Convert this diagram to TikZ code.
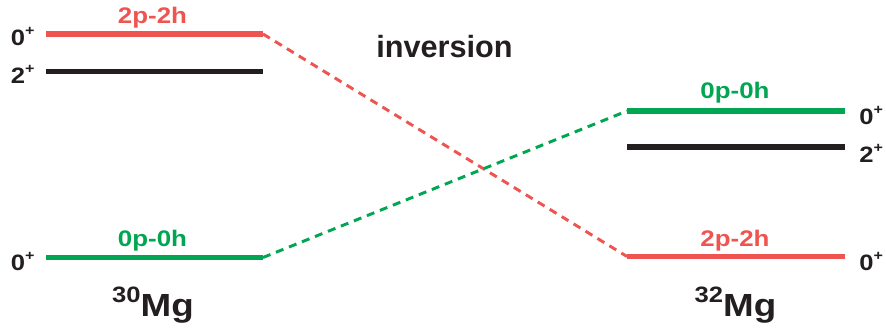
\documentclass[tikz,border=0pt]{standalone}
\usepackage{fontspec}
\setmainfont{Liberation Sans}
\newfontfamily\widesf{Liberation Sans}[FakeStretch=1.15]
\definecolor{pnred}{RGB}{238,84,80}
\definecolor{pngreen}{RGB}{0,166,81}
\definecolor{pnblack}{RGB}{35,31,32}
\newcommand\posparity{\raisebox{7.5pt}{\fontsize{10.5}{10}\selectfont +}}
\newcommand\massno[1]{\raisebox{10.5pt}{\fontsize{16.7}{17}\selectfont #1}}
\begin{document}
\begin{tikzpicture}[x=0.75pt,y=-0.75pt,
  level/.style={line width=3.8pt},
  mixing/.style={line width=2.2pt,dash pattern=on 6pt off 4.5pt},
  conf/.style={anchor=base,inner sep=0pt,font=\widesf\bfseries\fontsize{16.9}{17}\selectfont},
  spin/.style={anchor=base west,inner sep=0pt,text=pnblack,font=\widesf\bfseries\fontsize{16.7}{17}\selectfont},
  nucl/.style={anchor=base,inner sep=0pt,text=pnblack,font=\widesf\bfseries\fontsize{24}{24}\selectfont}]
\useasboundingbox (0,0) rectangle (886,329);
\draw[level,pnred] (46,34) -- (263,34) coordinate (a0);
\draw[level,pnblack] (46,71.5) -- (263,71.5);
\draw[level,pngreen] (46,257.5) -- (263,257.5) coordinate (a1);
\draw[level,pngreen] (627,111) coordinate (b1) -- (845,111);
\draw[level,pnblack] (627,147) -- (845,147);
\draw[level,pnred] (627,256.5) coordinate (b0) -- (845,256.5);
\draw[mixing,pnred] (a0) -- (b0);
\draw[mixing,pngreen] (a1) -- (b1);
\foreach \x/\y/\j [count=\i] in {10.5/45.5/0,10.5/83/2,10.5/270/0,859/124/0,859/162/2,859/270/0}
  \node[spin] (jp\i) at (\x,\y) {\j\posparity};
\node[conf,text=pnred] (ltop) at (152.5,23.5) {2p-2h};
\node[conf,text=pngreen] (lbot) at (152.5,246.5) {0p-0h};
\node[conf,text=pngreen] (rtop) at (735,98) {0p-0h};
\node[conf,text=pnred] (rbot) at (735,246.5) {2p-2h};
\node[nucl] (mg30) at (153,316) {\massno{30}Mg};
\node[nucl] (mg32) at (735.5,316.5) {\massno{32}Mg};
\node[anchor=base,inner sep=0pt,text=pnblack,font=\bfseries\fontsize{23}{23}\selectfont] (inv) at (444.5,57) {inversion};
\end{tikzpicture}
\end{document}
